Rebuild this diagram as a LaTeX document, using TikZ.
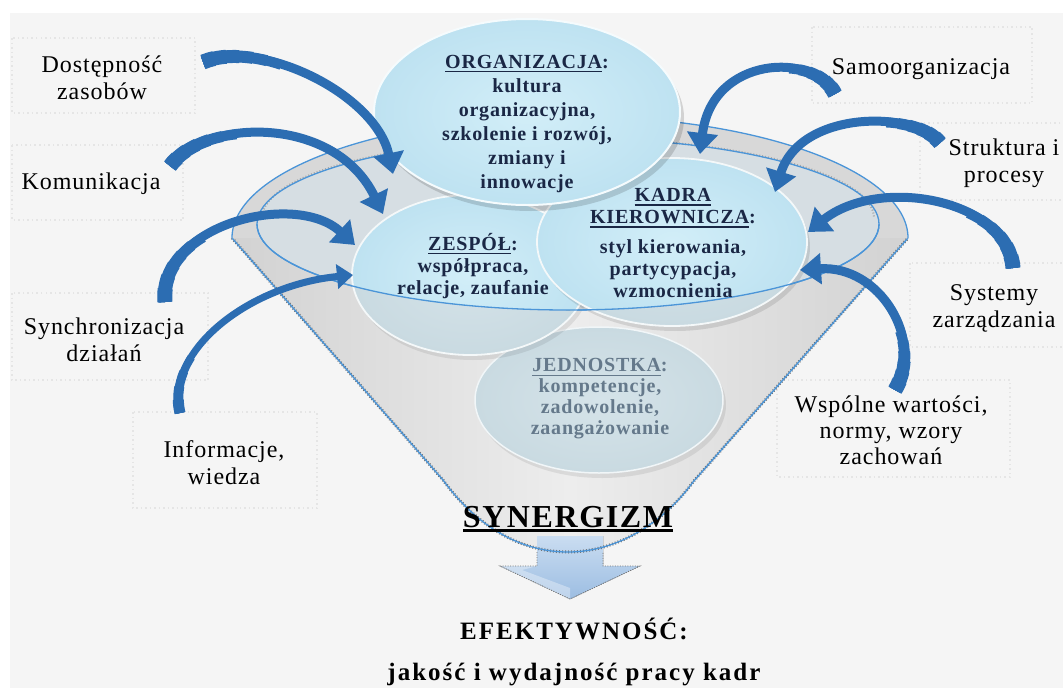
\documentclass[tikz,border=0pt]{standalone}
\usepackage{fontspec}
\setmainfont{Liberation Serif}
\newfontfamily\lblfont[LetterSpace=4]{Liberation Serif}
\newfontfamily\circfont[LetterSpace=4]{Liberation Serif}
\newfontfamily\resfont[LetterSpace=8]{Liberation Serif}
\newfontfamily\synfont[LetterSpace=5]{Liberation Serif}
\usetikzlibrary{arrows.meta,calc}

% text with a solid bar below it: depth, thickness, text
\newcommand\barunder[3]{\setbox0=\hbox{#3}\rlap{\rule[-#1]{\wd0}{#2}}\box0}

% thicker start of a curved arrow: tail, control 1, control 2, tip, list t/width
\newcommand\taperflow[5]{%
  \foreach \t/\w in {#5} {
    \path ($(#1)!\t!(#2)$) coordinate (q1) ($(#2)!\t!(#3)$) coordinate (m12)
          ($(#3)!\t!(#4)$) coordinate (m23);
    \path ($(q1)!\t!(m12)$) coordinate (q2) ($(m12)!\t!(m23)$) coordinate (r1);
    \path ($(q2)!\t!(r1)$) coordinate (q3);
    \draw[draw=flowblue, line width=\w pt, line cap=butt] (#1) .. controls (q1) and (q2) .. (q3);
  }}

\definecolor{bgc}{HTML}{F5F5F5}
\definecolor{boxc}{HTML}{E5E5E5}
\definecolor{flowblue}{HTML}{2C6DB2}
\definecolor{rimblue}{HTML}{4B95D8}
\definecolor{rimgrey}{HTML}{D8D8D8}
\definecolor{wallgrey}{HTML}{D2D2D2}
\definecolor{wallpale}{HTML}{EDEDED}
\definecolor{openc}{HTML}{D6DEE3}
\definecolor{cbright}{HTML}{BEE2F1}
\definecolor{cbrightin}{HTML}{D2EEF8}
\definecolor{cfaded}{HTML}{C9DAE1}
\definecolor{cfadedin}{HTML}{D5E3E9}
\definecolor{txtnavy}{HTML}{1A2745}
\definecolor{txtgrey}{HTML}{65798B}
\definecolor{spoutA}{HTML}{CADDF1}
\definecolor{spoutB}{HTML}{9CBDE2}

\begin{document}
\begin{tikzpicture}[x=1pt,y=-1pt,
  boxline/.style={draw=boxc, line width=2pt, dash pattern=on 1.5pt off 3pt},
  lbl/.style={align=center, inner sep=0pt, text=black,
    font=\lblfont\fontsize{24}{27}\selectfont},
  ctext/.style={align=center, inner sep=0pt, text=txtnavy,
    font=\circfont\bfseries\fontsize{20}{24}\selectfont},
  flow/.style={draw=flowblue, line width=9pt, line cap=butt,
    -{Triangle[width=30pt,length=21pt]}},
  bright/.style={inner color=cbrightin, outer color=cbright},
  faded/.style={inner color=cfadedin, outer color=cfaded},
  rimline/.style={draw=rimblue, line width=1.3pt},
  halftone/.style={draw=black!55, line width=3pt, dash pattern=on 1pt off 2pt},
]
\useasboundingbox (0,0) rectangle (1063,688);
\fill[white] (0,0) rectangle (1063,688);
\fill[bgc] (10,13) rectangle (1063,688);

% faint dotted frames round the factor labels
\draw[boxline] (12,38) rectangle (195,113);
\draw[boxline] (12,145) rectangle (183,220);
\draw[boxline] (12,293) rectangle (208,380);
\draw[boxline] (133,412) rectangle (317,508);
\draw[boxline] (812,27) rectangle (1032,103);
\draw[boxline] (920,123) rectangle (1075,200);
\draw[boxline] (910,263) rectangle (1075,347);
\draw[boxline] (777,380) rectangle (1010,477);

% funnel wall
\fill[left color=wallgrey, right color=wallgrey, middle color=wallpale]
  (232,238) -- (443,480) .. controls (478,528) and (522,552) .. (568,552)
  .. controls (618,552) and (664,522) .. (693,482) -- (908,238) -- cycle;

% spout arrow under the funnel
\fill[top color=spoutA, bottom color=spoutB]
  (537,536) -- (603,536) -- (603,566) -- (640,566) -- (570,599)
  -- (500,566) -- (537,566) -- cycle;
\fill[white, opacity=0.35] (537,566) -- (500,566) -- (570,599) -- (570,588) -- (522,570) -- cycle;
\draw[black!55, line width=0.8pt, dash pattern=on 1pt off 1.5pt]
  (537,552) -- (537,566) -- (500,566) -- (570,599) -- (640,566) -- (603,566) -- (603,552);

% funnel wall outline
\draw[halftone]
  (232,238) -- (443,480) .. controls (478,528) and (522,552) .. (568,552)
  .. controls (618,552) and (664,522) .. (693,482) -- (908,238);
\draw[rimline]
  (232,238) -- (443,480) .. controls (478,528) and (522,552) .. (568,552)
  .. controls (618,552) and (664,522) .. (693,482) -- (908,238);

% rim of the funnel
\fill[rimgrey] (232,238) arc[start angle=180, end angle=360, x radius=338, y radius=122] -- cycle;
\draw[rimline] (232,238) arc[start angle=180, end angle=360, x radius=338, y radius=122];
\fill[openc] (568,224) ellipse [x radius=311, y radius=86];
\draw[halftone, draw=black!35, line width=2pt] (262,218) arc[start angle=180, end angle=360, x radius=306, y radius=80];
\draw[rimline] (568,224) ellipse [x radius=311, y radius=86];

% JEDNOSTKA (seen through the wall)
\fill[black, opacity=0.08] (602,405) ellipse [x radius=124, y radius=73];
\fill[faded] (599,400) ellipse [x radius=124, y radius=73];
\draw[white!75!cfaded, line width=1.5pt] (599,400) ellipse [x radius=124, y radius=73];

% ZESPÓŁ
\fill[black, opacity=0.08] (473,280) ellipse [x radius=118, y radius=80];
\fill[faded] (470,275) ellipse [x radius=118, y radius=80];
\begin{scope}
  \clip (568,224) ellipse [x radius=311, y radius=86];
  \fill[bright] (470,275) ellipse [x radius=118, y radius=80];
\end{scope}
\draw[white!80!cfaded, line width=1.8pt] (470,275) ellipse [x radius=118, y radius=80];

% KADRA KIEROWNICZA
\fill[black, opacity=0.10] (675,247) ellipse [x radius=135, y radius=84];
\fill[faded] (672,242) ellipse [x radius=135, y radius=84];
\begin{scope}
  \clip (568,224) ellipse [x radius=311, y radius=86];
  \fill[bright] (672,242) ellipse [x radius=135, y radius=84];
\end{scope}
\draw[white!80!cfaded, line width=1.8pt] (672,242) ellipse [x radius=135, y radius=84];

% front edge of the opening
\draw[rimline] (879,224) arc[start angle=0, end angle=180, x radius=311, y radius=86];

% ORGANIZACJA
\fill[black, opacity=0.14] (531,118) ellipse [x radius=153, y radius=93];
\fill[bright] (527,112) ellipse [x radius=153, y radius=93];
\draw[white!85!cbright, line width=2pt] (527,112) ellipse [x radius=153, y radius=93];

% texts in the ellipses
\node[ctext] (org) at (527,124)
  {\barunder{4pt}{1.4pt}{ORGANIZACJA}:\\kultura\\organizacyjna,\\szkolenie i rozwój,\\zmiany i\\innowacje};
\node[ctext, font=\circfont\bfseries\fontsize{20}{22}\selectfont] (zesp) at (473,266)
  {\barunder{4pt}{1.4pt}{ZESPÓŁ}:\\współpraca,\\relacje, zaufanie};
\node[ctext, font=\circfont\bfseries\fontsize{20}{22}\selectfont] (kadra) at (673,243)
  {\barunder{4pt}{1.4pt}{KADRA}\\\barunder{4pt}{1.4pt}{KIEROWNICZA}:\\[8pt]styl kierowania,\\partycypacja,\\wzmocnienia};
\node[ctext, text=txtgrey, font=\circfont\bfseries\fontsize{20}{21}\selectfont] (jedn) at (600,399)
  {\barunder{4pt}{1.4pt}{JEDNOSTKA}:\\kompetencje,\\zadowolenie,\\zaangażowanie};

% result below the funnel
\node[inner sep=0pt, font=\synfont\bfseries\fontsize{32}{34}\selectfont] (syn) at (568,519)
  {\barunder{5pt}{2.6pt}{SYNERGIZM}};
\node[inner sep=0pt, align=center, font=\resfont\bfseries\fontsize{25}{41}\selectfont] (eff) at (574,652)
  {EFEKTYWNOŚĆ:\\jakość i wydajność pracy kadr};

% factor labels
\node[lbl] (dost) at (102,78) {Dostępność\\zasobów};
\node[lbl] (kom) at (91,184) {Komunikacja};
\node[lbl] (sync) at (104,340) {Synchronizacja\\działań};
\node[lbl] (info) at (224,463) {Informacje,\\wiedza};
\node[lbl] (samo) at (921,69) {Samoorganizacja};
\node[lbl] (strukt) at (1004,163) {Struktura i\\procesy};
\node[lbl] (syst) at (994,308) {Systemy\\zarządzania};
\node[lbl, font=\lblfont\fontsize{24}{26}\selectfont] (wart) at (891,430)
  {Wspólne wartości,\\normy, wzory\\zachowań};

% curved arrows from the factors into the funnel
\coordinate (a1s) at (203,62);   \coordinate (a1c) at (262,38);   \coordinate (a1d) at (376,95);   \coordinate (a1e) at (393,174);
\coordinate (a2s) at (170,166);  \coordinate (a2c) at (205,118);  \coordinate (a2d) at (335,115);  \coordinate (a2e) at (383,214);
\coordinate (a3s) at (165,302);  \coordinate (a3c) at (158,225);  \coordinate (a3d) at (295,190);  \coordinate (a3e) at (355,245);
\coordinate (a4s) at (180,413);  \coordinate (a4c) at (165,350);  \coordinate (a4d) at (250,285);  \coordinate (a4e) at (353,275);
\coordinate (b1s) at (835,94);   \coordinate (b1c) at (815,52);   \coordinate (b1d) at (712,55);   \coordinate (b1e) at (700,154);
\coordinate (b2s) at (940,143);  \coordinate (b2c) at (915,110);  \coordinate (b2d) at (800,110);  \coordinate (b2e) at (775,192);
\coordinate (b3s) at (1013,268); \coordinate (b3c) at (1008,200); \coordinate (b3d) at (880,175);  \coordinate (b3e) at (808,232);
\coordinate (b4s) at (895,390);  \coordinate (b4c) at (925,340);  \coordinate (b4d) at (880,265);  \coordinate (b4e) at (800,270);

\foreach \a in {a1,a2,a3,b1,b2,b3,b4} {
  \draw[flow] (\a s) .. controls (\a c) and (\a d) .. (\a e);
  \taperflow{\a s}{\a c}{\a d}{\a e}{0.36/10,0.30/11,0.24/12,0.18/13,0.12/14,0.06/15}
}
\draw[flow, line width=7pt, -{Triangle[width=24pt,length=16pt]}]
  (a4s) .. controls (a4c) and (a4d) .. (a4e);
\taperflow{a4s}{a4c}{a4d}{a4e}{0.30/8,0.22/9,0.14/10,0.07/11}
\end{tikzpicture}
\end{document}
